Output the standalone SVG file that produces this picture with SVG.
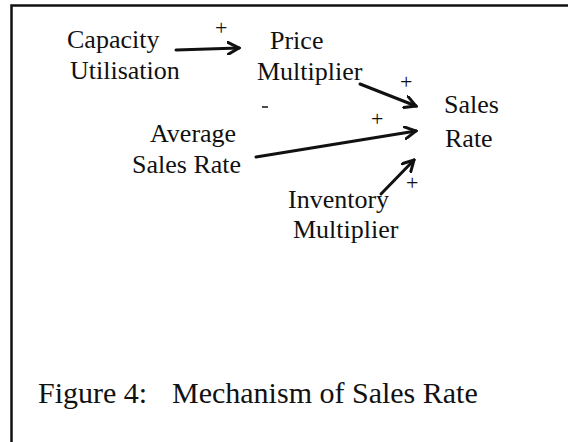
<svg xmlns="http://www.w3.org/2000/svg" width="568" height="442" viewBox="0 0 568 442">
<style>
text{font-family:"Liberation Serif","Times New Roman",serif;fill:#111}
.n{font-size:26px}
.s{font-size:22px}
.c{font-size:30px}
.e{fill:none;stroke:#111;stroke-width:3;stroke-linecap:round}
.frame{fill:none;stroke:#111;stroke-width:2.5}
</style>
<defs>
<marker id="ah" viewBox="0 0 14 14" refX="12" refY="7" markerWidth="14" markerHeight="14" markerUnits="userSpaceOnUse" orient="auto">
<path d="M1,1 L12,7 L1,13" fill="none" stroke="#111" stroke-width="3" stroke-linecap="round" stroke-linejoin="miter"/>
</marker>
</defs>
<rect width="568" height="442" fill="#fff"/>
<path class="frame" d="M11.5,442 V5.5 H568"/>
<g id="capacity"><text class="n" x="67" y="48">Capacity</text><text class="n" x="70" y="79">Utilisation</text></g>
<g id="price"><text class="n" x="270" y="49">Price</text><text class="n" x="257" y="80">Multiplier</text></g>
<g id="sales"><text class="n" x="444" y="113">Sales</text><text class="n" x="445" y="147">Rate</text></g>
<g id="average"><text class="n" x="150" y="142">Average</text><text class="n" x="132" y="173">Sales Rate</text></g>
<g id="inventory"><text class="n" x="288" y="208">Inventory</text><text class="n" x="293" y="238">Multiplier</text></g>
<g id="connectors">
<path class="e" d="M176,50 L239,48" marker-end="url(#ah)"/>
<path class="e" d="M360,84 L416,106" marker-end="url(#ah)"/>
<path class="e" d="M256,157 L416,131" marker-end="url(#ah)"/>
<path class="e" d="M381,194 L414,160" marker-end="url(#ah)"/>
<text class="s" x="215" y="35">+</text>
<text class="s" x="400" y="89">+</text>
<text class="s" x="371" y="126">+</text>
<text class="s" x="406" y="190">+</text>
<path d="M262,107 H268" stroke="#111" stroke-width="1.5"/>
</g>
<text class="c" x="38" y="403"><tspan x="38">Figure 4:</tspan><tspan x="172">Mechanism of Sales Rate</tspan></text>
</svg>
